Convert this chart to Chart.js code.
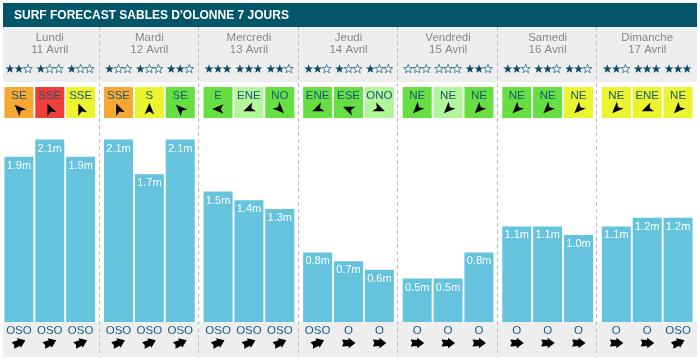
<!DOCTYPE html>
<html>
<head>
<meta charset="utf-8">
<script src="https://cdn.jsdelivr.net/npm/chart.js@4/dist/chart.umd.min.js"></script>
<style>
  html, body { margin: 0; padding: 0; background: #fff; }
  #wrap { width: 700px; height: 363px; }
</style>
</head>
<body>
<div id="wrap"><canvas id="surfChart" width="700" height="363"></canvas></div>
<script>
// Days of the forecast
const days = ['Lundi', 'Mardi', 'Mercredi', 'Jeudi', 'Vendredi', 'Samedi', 'Dimanche'];
const dates = ['11 Avril', '12 Avril', '13 Avril', '14 Avril', '15 Avril', '16 Avril', '17 Avril'];

// 3 slots per day (matin, midi, soir), in day order
const waveHeights = [1.9, 2.1, 1.9, 2.1, 1.7, 2.1, 1.5, 1.4, 1.3, 0.8, 0.7, 0.6, 0.5, 0.5, 0.8, 1.1, 1.1, 1.0, 1.1, 1.2, 1.2];
const stars = [2, 1, 1, 1, 1, 2, 3, 3, 2, 2, 1, 1, 0, 0, 2, 2, 2, 2, 2, 3, 3];
const windDirs = ['SE', 'SSE', 'SSE', 'SSE', 'S', 'SE', 'E', 'ENE', 'NO', 'ENE', 'ESE', 'ONO', 'NE', 'NE', 'NE', 'NE', 'NE', 'NE', 'NE', 'ENE', 'NE'];
const windLevels = ['o', 'r', 'y', 'o', 'y', 'g', 'g', 'l', 'g', 'g', 'g', 'l', 'g', 'l', 'g', 'g', 'g', 'y', 'y', 'y', 'y'];
const swellDirs = ['OSO', 'OSO', 'OSO', 'OSO', 'OSO', 'OSO', 'OSO', 'OSO', 'OSO', 'OSO', 'O', 'O', 'O', 'O', 'O', 'O', 'O', 'O', 'O', 'O', 'OSO'];

const title = "SURF FORECAST SABLES D'OLONNE 7 JOURS";

// colours
const windColors = { o: '#f7a833', r: '#ef3d3a', y: '#ebf42e', g: '#66df43', l: '#b2f59a' };
const barColor = '#65c3de';
const teal = '#03566a';
const band = '#eeeeee';

// compass (where the wind comes FROM), arrows point where it goes
const compass = ['N', 'NNE', 'NE', 'ENE', 'E', 'ESE', 'SE', 'SSE', 'S', 'SSO', 'SO', 'OSO', 'O', 'ONO', 'NO', 'NNO'];
function toAngle(dir) {
    return (compass.indexOf(dir) * 22.5 + 180) % 360;
}

function drawStar(ctx, cx, cy, filled) {
    const outer = 4.7, inner = 1.9;
    ctx.beginPath();
    for (let k = 0; k < 10; k++) {
        const r = k % 2 === 0 ? outer : inner;
        const a = -Math.PI / 2 + k * Math.PI / 5;
        const px = cx + r * Math.cos(a), py = cy + r * Math.sin(a);
        if (k === 0) ctx.moveTo(px, py); else ctx.lineTo(px, py);
    }
    ctx.closePath();
    if (filled) {
        ctx.fillStyle = '#0b4d68';
        ctx.fill();
    } else {
        ctx.fillStyle = '#ffffff';
        ctx.fill();
        ctx.lineWidth = 0.9;
        ctx.strokeStyle = '#3a7790';
        ctx.stroke();
    }
}

function windArrow(ctx, cx, cy, deg) {
    ctx.save();
    ctx.translate(cx, cy);
    ctx.rotate(deg * Math.PI / 180);
    ctx.beginPath();
    ctx.moveTo(0, -6);
    ctx.lineTo(4.8, 5.5);
    ctx.lineTo(0, 2.6);
    ctx.lineTo(-4.8, 5.5);
    ctx.closePath();
    ctx.fillStyle = '#000';
    ctx.fill();
    ctx.restore();
}

function swellArrow(ctx, cx, cy, deg) {
    ctx.save();
    ctx.translate(cx, cy);
    ctx.rotate((deg - 90) * Math.PI / 180); // shape below points right
    ctx.beginPath();
    ctx.moveTo(7, 0);
    ctx.lineTo(0, -5.2);
    ctx.lineTo(0, -3);
    ctx.lineTo(-6.5, -3.4);
    ctx.lineTo(-5, 0);
    ctx.lineTo(-6.5, 3.4);
    ctx.lineTo(0, 3);
    ctx.lineTo(0, 5.2);
    ctx.closePath();
    ctx.fillStyle = '#000';
    ctx.fill();
    ctx.restore();
}

const surfPlugin = {
    id: 'surfDecor',
    beforeDatasetsDraw(chart) {
        const ctx = chart.ctx;
        const x = chart.scales.x;
        ctx.save();
        // header
        ctx.fillStyle = teal;
        ctx.fillRect(3, 3, 694, 24);
        ctx.fillStyle = '#fff';
        ctx.font = 'bold 12px "Liberation Sans", Arial, sans-serif';
        ctx.textBaseline = 'middle';
        ctx.textAlign = 'left';
        ctx.fillText(title, 14, 15.5);
        // grey bands
        ctx.fillStyle = band;
        ctx.fillRect(3, 27, 694, 55);
        ctx.fillRect(3, 322, 694, 35);
        // day separators
        ctx.strokeStyle = '#bdbdbd';
        ctx.lineWidth = 1;
        ctx.setLineDash([4, 3]);
        for (let i = 0; i < days.length - 1; i++) {
            const bx = Math.round((x.getPixelForValue(i) + x.getPixelForValue(i + 1)) / 2) - 0.5;
            ctx.beginPath();
            ctx.moveTo(bx, 27);
            ctx.lineTo(bx, 357);
            ctx.stroke();
        }
        ctx.setLineDash([]);
        // day names
        ctx.fillStyle = '#888';
        ctx.font = '11.5px "Liberation Sans", Arial, sans-serif';
        ctx.textAlign = 'center';
        days.forEach((d, i) => {
            const cx = x.getPixelForValue(i);
            ctx.fillText(d, cx, 38);
            ctx.fillText(dates[i], cx, 50);
        });
        ctx.restore();
    },
    afterDatasetsDraw(chart) {
        const ctx = chart.ctx;
        ctx.save();
        ctx.textAlign = 'center';
        ctx.textBaseline = 'middle';
        chart.data.datasets.forEach((ds, p) => {
            const meta = chart.getDatasetMeta(p);
            meta.data.forEach((bar, i) => {
                const slot = i * 3 + p;
                const left = bar.x - bar.width / 2;
                // wave height label
                ctx.fillStyle = '#fff';
                ctx.font = '11px "Liberation Sans", Arial, sans-serif';
                ctx.fillText(waveHeights[slot].toFixed(1) + 'm', bar.x, bar.y + 9);
                // stars
                for (let s = 0; s < 3; s++) {
                    drawStar(ctx, bar.x + (s - 1) * 9, 69, s < stars[slot]);
                }
                // wind box
                ctx.fillStyle = windColors[windLevels[slot]];
                ctx.fillRect(left, 87, bar.width, 31);
                ctx.fillStyle = '#17577a';
                ctx.font = '11.5px "Liberation Sans", Arial, sans-serif';
                ctx.fillText(windDirs[slot], bar.x, 95.5);
                windArrow(ctx, bar.x, 109, toAngle(windDirs[slot]));
                // swell
                ctx.fillStyle = '#145d86';
                ctx.fillText(swellDirs[slot], bar.x, 330.5);
                swellArrow(ctx, bar.x, 343, toAngle(swellDirs[slot]));
            });
        });
        ctx.restore();
    }
};

const periods = [0, 1, 2];
new Chart(document.getElementById('surfChart'), {
    type: 'bar',
    data: {
        labels: days,
        datasets: periods.map(p => ({
            label: 'slot ' + p,
            data: days.map((d, i) => waveHeights[i * 3 + p]),
            backgroundColor: barColor,
            borderWidth: 0,
            categoryPercentage: 0.93,
            barPercentage: 0.94
        }))
    },
    options: {
        responsive: false,
        animation: false,
        events: [],
        layout: { padding: { top: 120, bottom: 41, left: 0, right: 3 } },
        plugins: { legend: { display: false }, tooltip: { enabled: false } },
        scales: {
            x: { display: false },
            y: { display: false, min: 0, max: 2.324 }
        }
    },
    plugins: [surfPlugin]
});
</script>
</body>
</html>
